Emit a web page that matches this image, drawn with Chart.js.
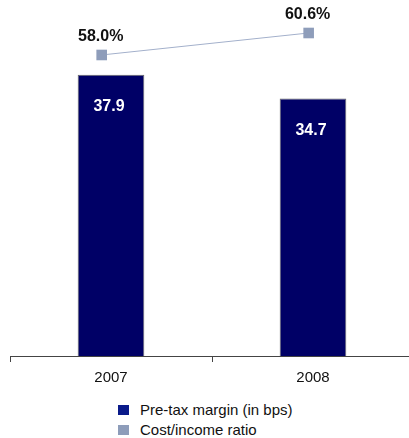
<!DOCTYPE html>
<html>
<head>
<meta charset="utf-8">
<script src="https://cdn.jsdelivr.net/npm/chart.js@4"></script>
<style>
  html, body { margin: 0; padding: 0; background: #fff; overflow: hidden; }
  body { width: 409px; height: 438px; position: relative; font-family: "Liberation Sans", Arial, sans-serif; }
  #chart { position: absolute; left: 0; top: 0; width: 414px; height: 398px; }
  .legend { position: absolute; left: 118px; top: 400px; font-size: 15px; color: #111; }
  .legend div { height: 20px; line-height: 20px; position: relative; padding-left: 22px; white-space: nowrap; }
  .legend span { position: absolute; left: 0; top: 5px; width: 11px; height: 10px; }
</style>
</head>
<body>
<canvas id="chart" width="414" height="398"></canvas>
<div class="legend" id="legend"></div>
<script>
const years = ['2007', '2008'];
const pretaxMargin = [37.9, 34.7];
const costIncome = [58.0, 60.6];
const seriesNames = ['Pre-tax margin (in bps)', 'Cost/income ratio'];
const barColor = '#000066';
const lineColor = '#8e9dba';

// dataset 0 = line, dataset 1 = bars
const valueLabels = {
    id: 'valueLabels',
    afterDatasetsDraw(chart) {
        const ctx = chart.ctx;
        ctx.save();
        ctx.font = 'bold 16px "Liberation Sans", Arial, sans-serif';
        ctx.textAlign = 'center';
        ctx.textBaseline = 'middle';
        chart.getDatasetMeta(1).data.forEach((bar, i) => {
            ctx.fillStyle = '#fff';
            ctx.fillText(pretaxMargin[i].toFixed(1), bar.x - 2, bar.y + 32);
        });
        chart.getDatasetMeta(0).data.forEach((pt, i) => {
            ctx.fillStyle = '#111';
            ctx.fillText(costIncome[i].toFixed(1) + '%', pt.x - 1, pt.y - 18);
        });
        ctx.restore();
    }
};

new Chart(document.getElementById('chart'), {
    data: {
        labels: years,
        datasets: [{
            type: 'line',
            label: seriesNames[1],
            data: costIncome.map((v, i) => ({ x: i, y: v })),
            xAxisID: 'x2',
            yAxisID: 'y2',
            borderColor: '#a3b0cb',
            borderWidth: 1,
            pointStyle: 'rect',
            pointRadius: 7.5,
            pointBackgroundColor: lineColor,
            pointBorderWidth: 0,
            order: 0
        }, {
            type: 'bar',
            label: seriesNames[0],
            data: pretaxMargin,
            xAxisID: 'x',
            yAxisID: 'y',
            grouped: false,
            backgroundColor: barColor,
            borderColor: '#666',
            borderWidth: 1,
            barPercentage: 0.33,
            categoryPercentage: 1,
            order: 1
        }]
    },
    options: {
        responsive: false,
        animation: false,
        layout: { autoPadding: false, padding: { left: 10, right: 0, top: 22, bottom: 4 } },
        plugins: { legend: { display: false }, tooltip: { enabled: false } },
        scales: {
            x: {
                type: 'category',
                offset: true,
                grid: { offset: true, drawOnChartArea: false, drawTicks: true, tickLength: 6, color: '#444' },
                border: { color: '#444', width: 1 },
                ticks: { color: '#111', padding: 7, font: { size: 15, family: '"Liberation Sans", Arial, sans-serif' } }
            },
            x2: { type: 'linear', display: false, min: -0.443, max: 1.509 },
            y: { display: false, min: 0, max: 45 },
            y2: { display: false, min: 22.4, max: 61.9 }
        }
    },
    plugins: [valueLabels]
});

const legend = document.getElementById('legend');
[[seriesNames[0], '#0a1a8a'], [seriesNames[1], lineColor]].forEach(([name, col]) => {
    const row = document.createElement('div');
    row.innerHTML = '<span style="background:' + col + '"></span>' + name;
    legend.appendChild(row);
});
</script>
</body>
</html>
